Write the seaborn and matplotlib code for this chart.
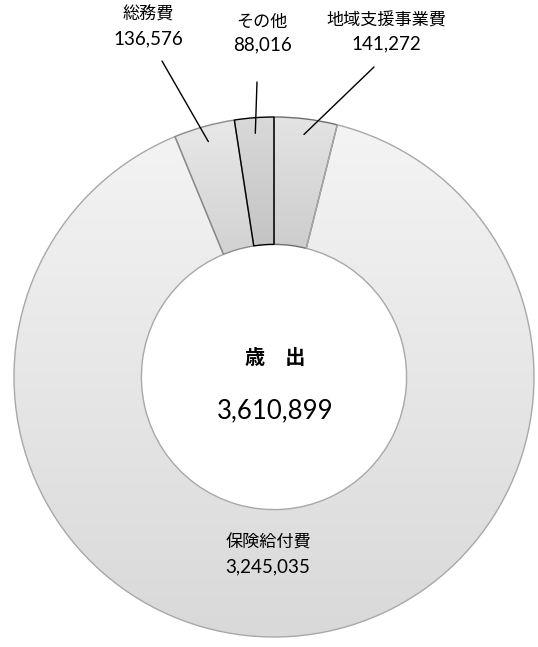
import numpy as np
import matplotlib
matplotlib.use("Agg")
import matplotlib.pyplot as plt
import seaborn as sns
from matplotlib.colors import LinearSegmentedColormap

# ---- data ----
categories = ["地域支援事業費", "保険給付費", "総務費", "その他"]
values = [141272, 3245035, 136576, 88016]
value_labels = ["141,272", "3,245,035", "136,576", "88,016"]
center_title = "歳　出"
center_total = "3,610,899"

sns.set_theme(style="white")
plt.rcParams['font.family'] = ['Noto Sans CJK JP', 'DejaVu Sans']
NUM_FONT = ['Lato', 'Noto Sans CJK JP', 'DejaVu Sans']

W, H = 538, 647
CX, CY, R = 274, 377, 260  # pixel geometry of the donut


def px(x, y):
    return (x - CX) / R, (CY - y) / R


top_colors = ["#e4e4e4", "#f4f4f4", "#e8e8e8", "#d9d9d9"]
bottom_colors = ["#cdcdcd", "#d9d9d9", "#d2d2d2", "#c4c4c4"]
edge_colors = ["#6e6e6e", "#a8a8a8", "#8a8a8a", "#000000"]

fig = plt.figure(figsize=(W / 100, H / 100), dpi=100)
fig.patch.set_facecolor("white")
ax = fig.add_axes([(CX - R) / W, (H - CY - R) / H, 2 * R / W, 2 * R / H])

wedges, _ = ax.pie(values, startangle=90, counterclock=False, radius=1.0,
                   wedgeprops=dict(width=0.49, linewidth=1.0))

grad = np.linspace(1, 0, 256).reshape(-1, 1)
for i, w in enumerate(wedges):
    ext = w.get_path().get_extents()
    cmap = LinearSegmentedColormap.from_list(f"g{i}", [bottom_colors[i], top_colors[i]])
    im = ax.imshow(grad, extent=[ext.x0, ext.x1, ext.y0, ext.y1], origin="upper",
                   cmap=cmap, aspect="auto", zorder=0.5, interpolation="bilinear")
    im.set_clip_path(w)
    w.set_facecolor("none")
    w.set_edgecolor(edge_colors[i])
    w.set_zorder(1 + (1 if i == 3 else 0))

ax.set_xlim(-1, 1)
ax.set_ylim(-1, 1)
ax.set_axis_off()

lab_fs = 12.3
num_fs = 13.5
# label positions (pixel centres) for name / value, and leader outer end
label_pos = {
    0: ((386, 21), (386, 44), (374, 67)),
    2: ((148, 15), (148, 39), (162, 61)),
    3: ((262, 22), (262, 45), (257, 82)),
}
for i, ((nx, ny), (vx, vy), (lx, ly)) in label_pos.items():
    ax.text(*px(nx, ny), categories[i], ha="center", va="center", fontsize=lab_fs,
            color="black", clip_on=False)
    ax.text(*px(vx, vy), value_labels[i], ha="center", va="center", fontsize=num_fs,
            family=NUM_FONT, color="black", clip_on=False)
    w = wedges[i]
    mid = np.deg2rad((w.theta1 + w.theta2) / 2)
    r_in = 0.94
    x0, y0 = r_in * np.cos(mid), r_in * np.sin(mid)
    x1, y1 = px(lx, ly)
    ax.plot([x0, x1], [y0, y1], color="black", lw=1.0, clip_on=False, zorder=3)

# big slice label
ax.text(*px(268, 543), categories[1], ha="center", va="center", fontsize=lab_fs, color="black")
ax.text(*px(268, 567), value_labels[1], ha="center", va="center", fontsize=num_fs,
        family=NUM_FONT, color="black")

# centre
ax.text(*px(275, 357), center_title, ha="center", va="center", fontsize=14.5,
        fontweight="bold", color="black")
ax.text(*px(275, 411), center_total, ha="center", va="center", fontsize=18.5,
        family=NUM_FONT, color="black")

fig.savefig("out.png", dpi=100, facecolor="white")
